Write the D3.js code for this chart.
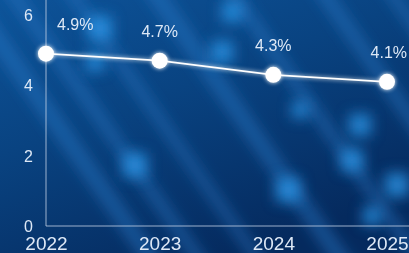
<!DOCTYPE html>
<html>
<head>
<meta charset="utf-8">
<script src="https://cdn.jsdelivr.net/npm/d3@7"></script>
<style>
  html, body { margin: 0; padding: 0; background: #073567; }
  svg { display: block; }
</style>
</head>
<body>
<div id="chart"></div>
<script>
// chart data
var years = ["2022", "2023", "2024", "2025"];
var rates = [4.9, 4.7, 4.3, 4.1];
var yTicks = [0, 2, 4, 6];

// decorative glow spots in the background (not data)
var spots = [[100, 28, 12], [135, 165, 12], [222, 52, 11], [232, 12, 10], [288, 190, 12],
             [360, 125, 11], [352, 160, 11], [397, 185, 12], [95, 62, 9], [300, 110, 8], [372, 216, 9]];
var streaks = [[-40, 40], [10, 30], [70, 26], [150, 40], [230, 30], [320, 34], [390, 26]];

var width = 409, height = 253;

var svg = d3.select("#chart").append("svg")
    .attr("width", width)
    .attr("height", height);

var defs = svg.append("defs");

var bg = defs.append("linearGradient").attr("id", "bg")
    .attr("x1", "0").attr("y1", "0").attr("x2", "0.6").attr("y2", "1");
bg.append("stop").attr("offset", "0%").attr("stop-color", "#0d5399");
bg.append("stop").attr("offset", "45%").attr("stop-color", "#094381");
bg.append("stop").attr("offset", "100%").attr("stop-color", "#052a5e");

defs.append("filter").attr("id", "blur8")
    .attr("x", "-50%").attr("y", "-50%").attr("width", "200%").attr("height", "200%")
  .append("feGaussianBlur").attr("stdDeviation", 7);
defs.append("filter").attr("id", "blur5")
    .attr("x", "-50%").attr("y", "-50%").attr("width", "200%").attr("height", "200%")
  .append("feGaussianBlur").attr("stdDeviation", 7);

var glow = defs.append("filter").attr("id", "glow")
    .attr("x", "-50%").attr("y", "-50%").attr("width", "200%").attr("height", "200%");
glow.append("feGaussianBlur").attr("stdDeviation", 2).attr("result", "b");
var merge = glow.append("feMerge");
merge.append("feMergeNode").attr("in", "b");
merge.append("feMergeNode").attr("in", "SourceGraphic");

// background
svg.append("rect").attr("width", width).attr("height", height).attr("fill", "url(#bg)");

svg.append("g")
    .attr("filter", "url(#blur8)")
  .selectAll("rect")
  .data(streaks)
  .join("rect")
    .attr("x", function(d) { return d[0]; })
    .attr("y", -120)
    .attr("width", function(d) { return d[1] * 0.4; })
    .attr("height", 520)
    .attr("fill", "#2f80d0")
    .attr("opacity", 0.45)
    .attr("transform", function(d) { return "rotate(-35," + d[0] + ",0)"; });

svg.append("g")
    .attr("filter", "url(#blur5)")
  .selectAll("rect")
  .data(spots)
  .join("rect")
    .attr("x", function(d) { return d[0] - d[2]; })
    .attr("y", function(d) { return d[1] - d[2]; })
    .attr("width", function(d) { return d[2] * 2; })
    .attr("height", function(d) { return d[2] * 2; })
    .attr("fill", "#2a95e6")
    .attr("opacity", 0.8);

// scales
var x = d3.scalePoint().domain(years).range([46, 387]);
var y = d3.scaleLinear().domain([0, 6]).range([226, 15]);

var textColor = "#dde8f6";
var font = "'Liberation Sans', Arial, sans-serif";

// axis lines
var axisColor = "rgba(190,205,225,0.55)";
svg.append("line")
    .attr("x1", x(years[0])).attr("x2", width)
    .attr("y1", y(0)).attr("y2", y(0))
    .attr("stroke", axisColor).attr("stroke-width", 1.5);
svg.append("line")
    .attr("x1", x(years[0])).attr("x2", x(years[0]))
    .attr("y1", y(0)).attr("y2", 0)
    .attr("stroke", axisColor).attr("stroke-width", 1.5);

// y axis
var yAxis = svg.append("g")
    .attr("transform", "translate(" + x(years[0]) + ",0)")
    .call(d3.axisLeft(y).tickValues(yTicks).tickSize(0).tickPadding(13).tickFormat(d3.format("d")));
yAxis.select(".domain").remove();
yAxis.selectAll("text")
    .attr("fill", textColor)
    .style("font-family", font)
    .style("font-size", "16px")
    .attr("dy", "0.35em");

// x axis
var xAxis = svg.append("g")
    .attr("transform", "translate(0," + y(0) + ")")
    .call(d3.axisBottom(x).tickSize(0).tickPadding(11));
xAxis.select(".domain").remove();
xAxis.selectAll("text")
    .attr("fill", textColor)
    .style("font-family", font)
    .style("font-size", "19px");

// line
var pts = years.map(function(yr, i) { return [x(yr), y(rates[i])]; });

svg.append("path")
    .datum(pts)
    .attr("d", d3.line())
    .attr("fill", "none")
    .attr("stroke", "#ffffff")
    .attr("stroke-width", 1.8)
    .attr("filter", "url(#glow)");

svg.append("g")
    .attr("filter", "url(#glow)")
  .selectAll("circle")
  .data(pts)
  .join("circle")
    .attr("cx", function(d) { return d[0]; })
    .attr("cy", function(d) { return d[1]; })
    .attr("r", 8)
    .attr("fill", "#ffffff");

// value labels
svg.append("g")
  .selectAll("text")
  .data(rates)
  .join("text")
    .attr("x", function(d, i) { return i === 0 ? x(years[i]) + 11 : x(years[i]); })
    .attr("y", function(d) { return y(d) - 24; })
    .attr("text-anchor", function(d, i) { return i === 0 ? "start" : (i === rates.length - 1 ? "end" : "middle"); })
    .attr("dx", function(d, i) { return i === rates.length - 1 ? 20 : 0; })
    .attr("fill", textColor)
    .style("font-family", font)
    .style("font-size", "16px")
    .text(function(d) { return d.toFixed(1) + "%"; });
</script>
</body>
</html>
